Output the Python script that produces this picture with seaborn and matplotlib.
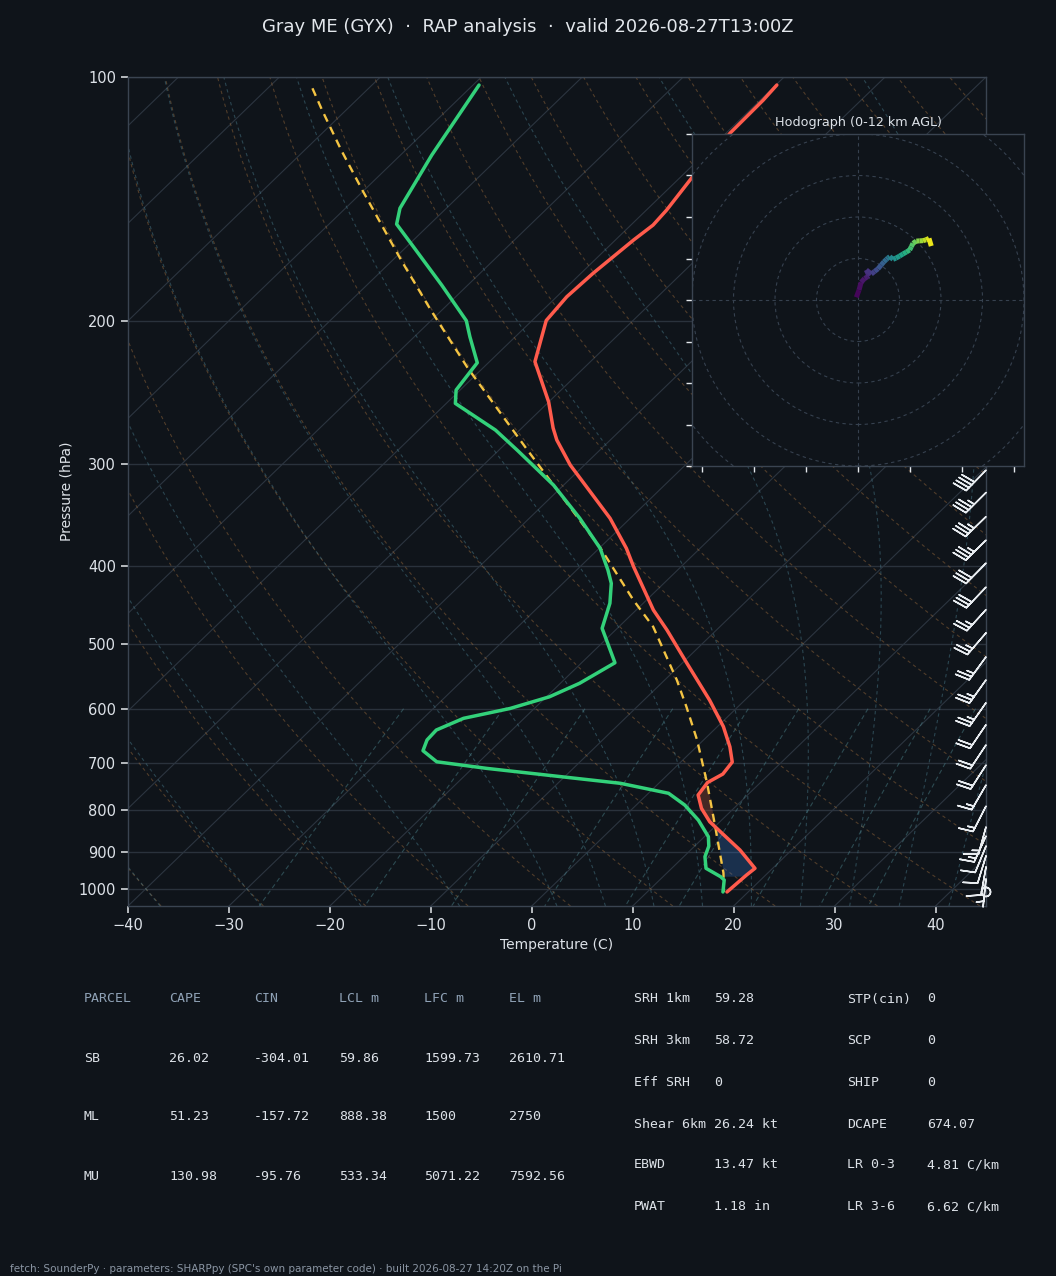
import numpy as np
import pandas as pd
import matplotlib
matplotlib.use("Agg")
import matplotlib.pyplot as plt
import matplotlib.transforms as mtransforms
from matplotlib.collections import LineCollection
from matplotlib.colors import Normalize
from matplotlib.ticker import NullLocator, NullFormatter
import seaborn as sns

# ---------------- data ----------------
TITLE = "Gray ME (GYX)  \u00b7  RAP analysis  \u00b7  valid 2026-08-27T13:00Z"
FOOTER = ("fetch: SounderPy \u00b7 parameters: SHARPpy (SPC's own parameter code) "
          "\u00b7 built 2026-08-27 14:20Z on the Pi")

temp_p = [102.3, 106.8, 117.2, 133.3, 145.8, 152.2, 158.8, 174.5, 186.5, 199.5,
          224.2, 251.4, 270.6, 280.0, 300.6, 349.6, 380.7, 401.1, 453.5, 480.0,
          527.6, 585.5, 631.4, 668.4, 698.0, 722.2, 739.7, 766.4, 796.0, 826.9,
          896.0, 943.6, 961.6, 1009.0]
temp_c = [-59.9, -59.7, -59.6, -58.8, -58.0, -57.8, -58.2, -58.8, -59.0, -58.6,
          -55.5, -50.0, -46.9, -45.3, -41.4, -32.0, -27.3, -24.7, -18.3, -14.9,
          -9.5, -3.5, 0.6, 3.3, 5.1, 5.4, 4.75, 5.1, 6.8, 9.0,
          14.9, 18.25, 18.1, 17.9]

dew_p = [102.3, 124.8, 145.1, 151.8, 161.9, 180.4, 199.6, 208.9, 224.9, 243.0,
         252.4, 272.2, 288.5, 318.2, 349.6, 380.7, 404.9, 420.5, 444.9, 477.7,
         526.7, 558.3, 580.1, 599.6, 616.6, 637.4, 655.6, 675.9, 697.5, 710.6,
         741.4, 762.7, 788.5, 823.0, 862.8, 886.0, 912.9, 943.6, 966.2, 975.4,
         1009.0]
dew_c = [-89.4, -86.9, -84.6, -83.3, -79.3, -72.6, -66.5, -64.5, -61.1, -60.4,
         -59.1, -52.4, -48.1, -41.0, -35.0, -29.9, -26.9, -25.2, -23.3, -21.5,
         -16.7, -18.1, -19.7, -22.4, -26.0, -27.5, -27.4, -26.7, -24.2, -18.6,
         -3.8, 2.0, 4.8, 7.7, 10.4, 11.4, 12.1, 13.4, 15.7, 16.4,
         17.5]

parcel_p = [1009.0, 956.0, 829.8, 740.7, 655.6, 596.8, 553.1, 475.6, 440.9, 380.4,
            288.0, 228.3, 193.7, 168.0, 137.8, 123.0, 109.8, 102.6]
parcel_c = [17.6, 15.6, 9.6, 4.75, -0.65, -5.1, -8.8, -16.6, -21.3, -29.9,
            -47.2, -61.5, -71.1, -79.2, -90.2, -96.4, -102.4, -105.9]

# shading limits (hPa)
CIN_BOTTOM_P = 965.0
CIN_TOP_P = 800.0
CAPE_TOP_P = 700.0

# wind profile (kt) with heights AGL (m)
wind_p = [1009, 972, 940, 911, 886, 861, 839, 791, 745, 704, 665, 628, 590, 553,
          518, 484, 453, 425, 397, 372, 348, 325, 305, 283, 263, 244, 227, 211, 196]
wind_u = [-0.8, 0.5, 1.5, 3.2, 4.6, 5.3, 4.0, 6.4, 8.0, 9.6, 11.2, 12.5, 13.7, 14.5,
          15.3, 16.9, 18.3, 20.1, 21.7, 23.3, 24.9, 25.7, 26.5, 28.1, 29.7, 31.3,
          32.8, 34.2, 35.3]
wind_v = [1.3, 4.8, 8.5, 10.4, 11.2, 11.6, 14.5, 12.5, 13.8, 15.0, 16.9, 18.4, 19.6,
          20.3, 20.9, 19.6, 20.2, 21.2, 22.2, 23.1, 24.1, 25.7, 27.3, 28.4, 28.5,
          28.6, 29.0, 29.7, 26.0]
wind_z = [0, 317, 594, 854, 1082, 1317, 1528, 2005, 2485, 2933, 3382, 3827, 4303,
          4790, 5283, 5785, 6263, 6729, 7206, 7671, 8124, 8607, 9009, 9537, 10017,
          10498, 10981, 11437, 11869]

x_ticks = [-40, -30, -20, -10, 0, 10, 20, 30, 40]
p_ticks = [100, 200, 300, 400, 500, 600, 700, 800, 900, 1000]

parcel_cols = ["PARCEL", "CAPE", "CIN", "LCL m", "LFC m", "EL m"]
parcel_names = ["SB", "ML", "MU"]
parcel_cape = ["26.02", "51.23", "130.98"]
parcel_cin = ["-304.01", "-157.72", "-95.76"]
parcel_lcl = ["59.86", "888.38", "533.34"]
parcel_lfc = ["1599.73", "1500", "5071.22"]
parcel_el = ["2610.71", "2750", "7592.56"]

idx_labels_1 = ["SRH 1km", "SRH 3km", "Eff SRH", "Shear 6km", "EBWD", "PWAT"]
idx_values_1 = ["59.28", "58.72", "0", "26.24 kt", "13.47 kt", "1.18 in"]
idx_labels_2 = ["STP(cin)", "SCP", "SHIP", "DCAPE", "LR 0-3", "LR 3-6"]
idx_values_2 = ["0", "0", "0", "674.07", "4.81 C/km", "6.62 C/km"]

# ---------------- style ----------------
BG = "#0f141a"
SPINE = "#3a4451"
TXT = "#dde2e8"
HDR = "#8fa2b6"
TICK = "#e4e8ec"
GRID = "#2a323c"
ISO = "#2c3540"
DRY = "#b27a42"
MOIST = "#467686"
MIX = "#4a8088"
RED = "#ff5b4c"
GREEN = "#33d17a"
YELLOW = "#f4c443"

sns.set_theme(style="dark", rc={
    "axes.facecolor": BG, "figure.facecolor": BG, "savefig.facecolor": BG,
    "axes.edgecolor": SPINE, "text.color": TXT, "axes.labelcolor": TXT,
    "xtick.color": TICK, "ytick.color": TICK, "grid.color": GRID,
})
plt.rcParams["font.family"] = ["DejaVu Sans"]

W, H = 1056, 1276
fig = plt.figure(figsize=(W / 100, H / 100), dpi=100)

P_BOT, P_TOP = 1050.0, 100.0
T_LEFT, T_RIGHT = -40.0, 45.0


def skx(t, p):
    p = np.asarray(p, float)
    frac = np.log(P_BOT / p) / np.log(P_BOT / P_TOP)
    return np.asarray(t, float) + (T_RIGHT - T_LEFT) * frac


ax = fig.add_axes([128 / W, 1 - 906 / H, 858 / W, 829 / H])
ax.set_yscale("log")

# ---- background isopleths ----
pg = np.geomspace(P_BOT, P_TOP, 300)
for t in range(-130, 50, 10):
    ax.plot(skx(np.full_like(pg, t), pg), pg, color=ISO, lw=0.8, zorder=1)

for th in np.arange(-50, 190, 10):
    tt = (th + 273.15) * (pg / 1000.0) ** 0.2857 - 273.15
    ax.plot(skx(tt, pg), pg, color=DRY, lw=0.8, ls=(0, (3, 3)), alpha=0.4, zorder=1)


def dtdp(T, p):
    es = 6.112 * np.exp(17.67 * (T - 273.15) / (T - 29.65))
    rs = 0.622 * es / (p - es)
    return (287.04 * T + 2.501e6 * rs) / (
        p * (1005.7 + 2.501e6 ** 2 * rs * 0.622 / (287.04 * T ** 2)))


def integrate(T0, ps):
    out = [T0]
    for i in range(len(ps) - 1):
        p0, p1 = ps[i], ps[i + 1]
        h = p1 - p0
        t = out[-1]
        k1 = dtdp(t, p0)
        k2 = dtdp(t + h * k1 / 2, p0 + h / 2)
        k3 = dtdp(t + h * k2 / 2, p0 + h / 2)
        k4 = dtdp(t + h * k3, p1)
        out.append(t + h * (k1 + 2 * k2 + 2 * k3 + k4) / 6)
    return np.array(out)


t0s = np.concatenate((np.arange(-40, 0, 10), np.arange(0, 46, 5))) + 273.15
p_up = np.geomspace(1000, 100, 400)
p_dn = np.linspace(1000, 1050, 20)
T_up = integrate(t0s.astype(float), p_up)
T_dn = integrate(t0s.astype(float), p_dn)
for k in range(len(t0s)):
    pp = np.concatenate((p_dn[::-1], p_up[1:]))
    tt = np.concatenate((T_dn[::-1, k], T_up[1:, k])) - 273.15
    ax.plot(skx(tt, pp), pp, color=MOIST, lw=0.8, ls=(0, (3, 3)), alpha=0.5, zorder=1)

mix_w = [0.0004, 0.001, 0.002, 0.004, 0.007, 0.01, 0.016, 0.024, 0.032]
pm = np.linspace(600, 1050, 60)
for w in mix_w:
    e = pm * w / (0.622 + w)
    a = np.log(e / 6.112)
    td = 243.5 * a / (17.67 - a)
    ax.plot(skx(td, pm), pm, color=MIX, lw=0.8, ls=(0, (4, 3)), alpha=0.5, zorder=1)

# ---- CAPE / CIN shading ----
pf = np.geomspace(1009, 700, 600)
t_i = np.interp(np.log(pf), np.log(temp_p), temp_c)
par_i = np.interp(np.log(pf), np.log(parcel_p[::-1]), parcel_c[::-1])
ax.fill_betweenx(pf, skx(par_i, pf), skx(t_i, pf),
                 where=(par_i > t_i) & (pf >= CAPE_TOP_P), interpolate=True,
                 color="#b5553c", alpha=0.32, lw=0, zorder=2)
ax.fill_betweenx(pf, skx(par_i, pf), skx(t_i, pf),
                 where=(par_i < t_i) & (pf <= CIN_BOTTOM_P) & (pf >= CIN_TOP_P),
                 interpolate=True, color="#3b7dd8", alpha=0.27, lw=0, zorder=2)

# ---- profiles (seaborn) ----
df_t = pd.DataFrame({"x": skx(temp_c, temp_p), "p": temp_p})
df_d = pd.DataFrame({"x": skx(dew_c, dew_p), "p": dew_p})
df_par = pd.DataFrame({"x": skx(parcel_c, parcel_p), "p": parcel_p})
sns.lineplot(data=df_par, x="x", y="p", sort=False, estimator=None, color=YELLOW,
             lw=1.7, linestyle=(0, (3.5, 2.5)), ax=ax, zorder=4)
sns.lineplot(data=df_t, x="x", y="p", sort=False, estimator=None, color=RED,
             lw=2.5, ax=ax, zorder=5)
sns.lineplot(data=df_d, x="x", y="p", sort=False, estimator=None, color=GREEN,
             lw=2.5, ax=ax, zorder=5)

# ---- wind barbs on the right edge ----
trans = mtransforms.blended_transform_factory(ax.transAxes, ax.transData)
ax.barbs(np.ones(len(wind_p)), wind_p, wind_u, wind_v, transform=trans,
         length=6.4, color="#e8ecf0", lw=1.1, clip_on=False, zorder=6,
         sizes=dict(height=0.5, spacing=0.14, emptybarb=0.16))

# ---- axes cosmetics ----
ax.set_xlim(T_LEFT, T_RIGHT)
ax.set_ylim(P_BOT, P_TOP)
ax.set_yticks(p_ticks)
ax.set_yticklabels([str(p) for p in p_ticks])
ax.yaxis.set_minor_locator(NullLocator())
ax.yaxis.set_minor_formatter(NullFormatter())
ax.set_xticks(x_ticks)
ax.grid(False)
ax.grid(True, axis="y", color=GRID, lw=1.0, zorder=1)
ax.tick_params(axis="both", which="major", length=5, width=1.1, color=TICK,
               labelcolor=TXT, labelsize=10.5, left=True, bottom=True)
ax.set_xlabel("Temperature (C)", fontsize=10, color=TXT)
ax.set_ylabel("Pressure (hPa)", fontsize=10, color=TXT)
for s in ax.spines.values():
    s.set_color(SPINE)
    s.set_linewidth(1.0)

# ---- hodograph ----
hax = fig.add_axes([692 / W, 1 - 466 / H, 332 / W, 332 / H])
hax.set_facecolor(BG)
for r in range(20, 160, 20):
    hax.add_patch(plt.Circle((0, 0), r, fill=False, ls=(0, (3, 3)),
                             color="#36414f", lw=0.8, zorder=1))
hax.axhline(0, color="#36414f", lw=0.8, ls=(0, (3, 3)), zorder=1)
hax.axvline(0, color="#36414f", lw=0.8, ls=(0, (3, 3)), zorder=1)
pts = np.column_stack([wind_u, wind_v])
segs = np.stack([pts[:-1], pts[1:]], axis=1)
zmid = 0.5 * (np.array(wind_z[:-1]) + np.array(wind_z[1:]))
lc = LineCollection(segs, cmap="viridis", norm=Normalize(0, 12000),
                    linewidths=3.6, zorder=3)
lc.set_array(zmid)
hax.add_collection(lc)
hax.set_xlim(-80, 80)
hax.set_ylim(-80, 80)
hax.set_xticks(np.arange(-75, 76, 25))
hax.set_yticks(np.arange(-80, 81, 20))
hax.grid(False)
hax.tick_params(labelleft=False, labelbottom=False, left=True, bottom=True,
                color=TICK, length=4, width=1)
for s in hax.spines.values():
    s.set_color(SPINE)
    s.set_linewidth(1.0)
hax.set_title("Hodograph (0-12 km AGL)", fontsize=9.2, color=TXT)

# ---- texts ----
fig.text(0.5, 1 - 27 / H, TITLE, ha="center", va="center", fontsize=13, color="#e3e7ec")

mono = "DejaVu Sans Mono"
col_x = [84, 169, 254, 339, 424, 509]
for cx, h in zip(col_x, parcel_cols):
    fig.text(cx / W, 1 - 999 / H, h, family=mono, fontsize=9.5, color=HDR, va="center")
rows_y = [1058, 1117, 1176]
cols = [parcel_names, parcel_cape, parcel_cin, parcel_lcl, parcel_lfc, parcel_el]
for ri, ry in enumerate(rows_y):
    for cx, col in zip(col_x, cols):
        fig.text(cx / W, 1 - ry / H, col[ri], family=mono, fontsize=9.5, color=TXT,
                 va="center")

idx_y = [999, 1041, 1083, 1124, 1165, 1207]
for i, ry in enumerate(idx_y):
    fig.text(634 / W, 1 - ry / H, idx_labels_1[i], family=mono, fontsize=9.5, color=TXT, va="center")
    fig.text(714 / W, 1 - ry / H, idx_values_1[i], family=mono, fontsize=9.5, color=TXT, va="center")
    fig.text(847 / W, 1 - ry / H, idx_labels_2[i], family=mono, fontsize=9.5, color=TXT, va="center")
    fig.text(927 / W, 1 - ry / H, idx_values_2[i], family=mono, fontsize=9.5, color=TXT, va="center")

fig.text(10 / W, 1 - 1269 / H, FOOTER, fontsize=7.5, color="#8a95a3", va="center")

fig.savefig("out.png", dpi=100, facecolor=BG)
